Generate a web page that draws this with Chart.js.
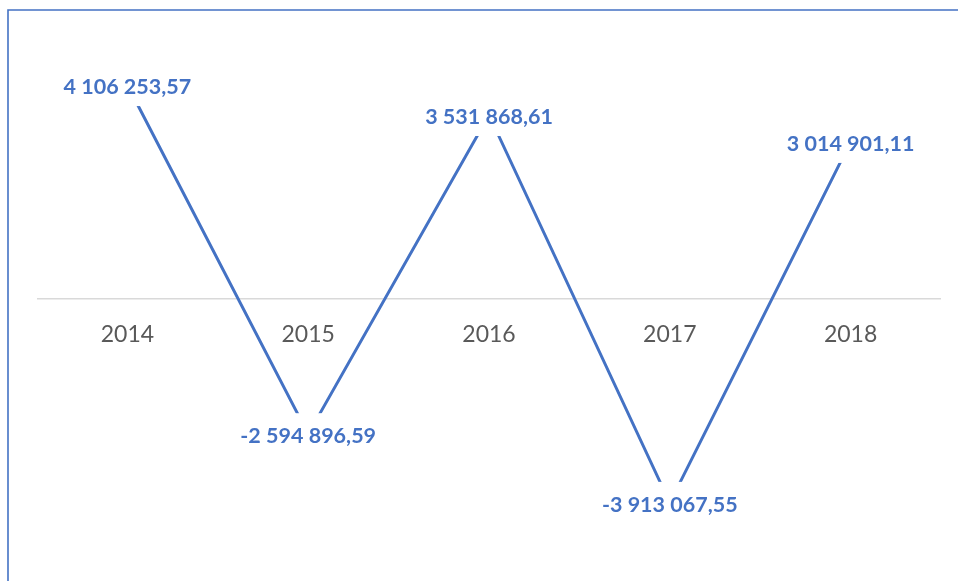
<!DOCTYPE html>
<html>
<head>
<meta charset="utf-8">
<script src="https://cdn.jsdelivr.net/npm/chart.js@4"></script>
<style>
  html, body { margin: 0; padding: 0; background: #ffffff; }
  #wrap { position: relative; width: 958px; height: 581px; }
</style>
</head>
<body>
<div id="wrap"><canvas id="c" width="958" height="581"></canvas></div>
<script>
const categories = ['2014', '2015', '2016', '2017', '2018'];
const values = [4106253.57, -2594896.59, 3531868.61, -3913067.55, 3014901.11];
const yMin = -5000000;
const yMax = 5000000;
const yStep = 1000000;

const LINE_COLOR = '#4472C4';

function formatValue(v) {
  const neg = v < 0;
  const abs = Math.abs(v);
  const parts = abs.toFixed(2).split('.');
  const intPart = parts[0].replace(/\B(?=(\d{3})+(?!\d))/g, ' ');
  return (neg ? '-' : '') + intPart + ',' + parts[1];
}

const framePlugin = {
  id: 'frame',
  beforeDraw(chart) {
    const ctx = chart.ctx;
    ctx.save();
    ctx.fillStyle = '#ffffff';
    ctx.fillRect(0, 0, chart.width, chart.height);
    ctx.strokeStyle = LINE_COLOR;
    ctx.lineWidth = 1.6;
    ctx.beginPath();
    ctx.moveTo(8, chart.height + 5);
    ctx.lineTo(8, 10);
    ctx.lineTo(chart.width + 5, 10);
    ctx.stroke();
    ctx.restore();
  }
};

const labelPlugin = {
  id: 'valueLabels',
  afterDatasetsDraw(chart) {
    const ctx = chart.ctx;
    const meta = chart.getDatasetMeta(0);
    ctx.save();
    ctx.font = 'bold 21.5px Lato';
    ctx.textAlign = 'center';
    ctx.textBaseline = 'middle';
    meta.data.forEach((pt, i) => {
      const txt = formatValue(chart.data.datasets[0].data[i]);
      const w = ctx.measureText(txt).width;
      ctx.fillStyle = '#ffffff';
      ctx.fillRect(pt.x - w / 2 - 4, pt.y - 21, w + 8, 42);
      ctx.fillStyle = LINE_COLOR;
      ctx.fillText(txt, pt.x, pt.y + 2);
    });
    ctx.restore();
  }
};

new Chart(document.getElementById('c'), {
  type: 'line',
  data: {
    labels: categories,
    datasets: [{
      data: values,
      borderColor: LINE_COLOR,
      borderWidth: 3,
      pointRadius: 0,
      tension: 0,
      fill: false
    }]
  },
  options: {
    responsive: false,
    animation: false,
    devicePixelRatio: 1,
    layout: { padding: { left: 37, right: 17, top: 38.5, bottom: 21.5 } },
    plugins: { legend: { display: false }, tooltip: { enabled: false } },
    scales: {
      x: {
        type: 'category',
        offset: true,
        position: { y: 0 },
        grid: { display: false },
        border: { display: false },
        ticks: {
          color: '#595959',
          font: { family: 'Lato', size: 23 },
          padding: 14,
          maxRotation: 0
        },
        afterFit(scale) { scale.height = 0; }
      },
      y: {
        min: yMin,
        max: yMax,
        ticks: { display: false, stepSize: yStep },
        border: { display: false },
        grid: {
          drawTicks: false,
          lineWidth: 1.6,
          color: (c) => (c.tick && c.tick.value === 0) ? '#D9D9D9' : 'rgba(0,0,0,0)'
        }
      }
    }
  },
  plugins: [framePlugin, labelPlugin]
});
</script>
</body>
</html>
